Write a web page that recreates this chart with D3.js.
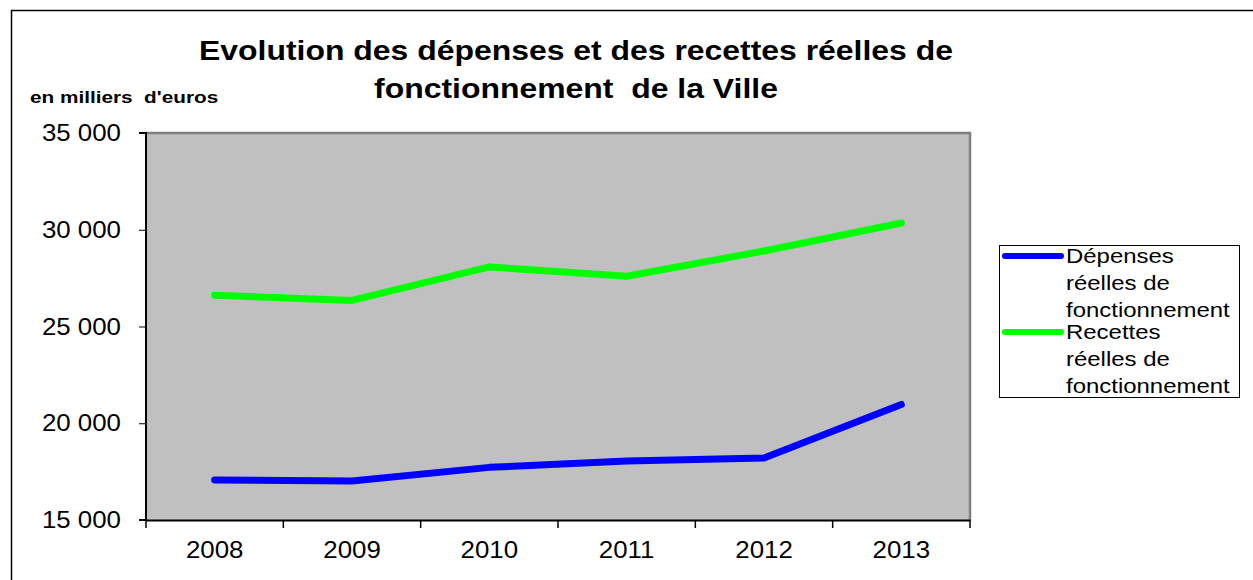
<!DOCTYPE html>
<html>
<head>
<meta charset="utf-8">
<script src="https://cdn.jsdelivr.net/npm/d3@7"></script>
<style>
  body { margin: 0; background: #fff; }
  svg { display: block; font-family: "Liberation Sans", Arial, sans-serif; }
</style>
</head>
<body>
<svg id="chart" width="1253" height="580"></svg>
<script>
const years = ["2008", "2009", "2010", "2011", "2012", "2013"];
const depenses = [17070, 17010, 17720, 18050, 18200, 20970];
const recettes = [26620, 26350, 28080, 27600, 28900, 30350];
const yTicks = [15000, 20000, 25000, 30000, 35000];
const seriesNames = ["Dépenses réelles de fonctionnement", "Recettes réelles de fonctionnement"];
const seriesColors = ["#0000ff", "#00ff00"];

const svg = d3.select("#chart");
const margins = { top: 133, right: 283, bottom: 60, left: 146 };
const width = 1253, height = 580;

// the original text is drawn a little wider than Arial
function stretch(sel, f) {
    sel.each(function() {
        const w = this.getComputedTextLength();
        d3.select(this).attr("textLength", w * f).attr("lengthAdjust", "spacingAndGlyphs");
    });
}

// outer frame (top and left only visible)
svg.append("path")
    .attr("d", `M11.5,${height} V10.5 H${width}`)
    .attr("fill", "none")
    .attr("stroke", "#000")
    .attr("stroke-width", 1.5);

const x = d3.scaleBand()
    .domain(years)
    .range([margins.left, width - margins.right]);

const y = d3.scaleLinear()
    .domain([15000, 35000])
    .range([height - margins.bottom, margins.top]);

// plot area
svg.append("rect")
    .attr("x", margins.left)
    .attr("y", margins.top)
    .attr("width", x.range()[1] - margins.left)
    .attr("height", y(15000) - margins.top)
    .attr("fill", "#c0c0c0");

svg.append("path")
    .attr("d", `M${margins.left},${margins.top} H${x.range()[1]} V${y(15000)}`)
    .attr("fill", "none")
    .attr("stroke", "#808080")
    .attr("stroke-width", 2.5);

const fmt = v => d3.format(",")(v).replace(",", " ");

const yAxis = svg.append("g")
    .attr("transform", `translate(${margins.left},0)`)
    .call(d3.axisLeft(y).tickValues(yTicks).tickSize(7).tickPadding(18).tickFormat(fmt));
yAxis.select(".domain").attr("stroke-width", 2).attr("d", `M-7,${y(35000)}H0V${y(15000)}H-7`);
yAxis.selectAll("text").attr("font-size", 23.5).attr("fill", "#000")
    .attr("font-family", "Liberation Sans, Arial, sans-serif");
stretch(yAxis.selectAll("text"), 1.1);

const xAxis = svg.append("g")
    .attr("transform", `translate(0,${y(15000)})`)
    .call(d3.axisBottom(x).tickSize(0).tickPadding(21));
xAxis.select(".domain").attr("stroke-width", 2);
xAxis.selectAll("text").attr("font-size", 23.5).attr("fill", "#000")
    .attr("font-family", "Liberation Sans, Arial, sans-serif");
stretch(xAxis.selectAll("text"), 1.1);
// tick marks on band boundaries
xAxis.selectAll("line.bound")
    .data(years.concat(["end"]))
    .join("line")
    .attr("class", "bound")
    .attr("x1", (d, i) => margins.left + i * x.bandwidth())
    .attr("x2", (d, i) => margins.left + i * x.bandwidth())
    .attr("y1", 0).attr("y2", 8)
    .attr("stroke", "#000").attr("stroke-width", 1.5);

const line = d3.line()
    .x((d, i) => x(years[i]) + x.bandwidth() / 2)
    .y(d => y(d));

[depenses, recettes].forEach((s, k) => {
    svg.append("path")
        .datum(s)
        .attr("d", line)
        .attr("fill", "none")
        .attr("stroke", seriesColors[k])
        .attr("stroke-width", 7)
        .attr("stroke-linecap", "round")
        .attr("stroke-linejoin", "round");
});

// title
const title = svg.append("g")
    .attr("font-size", 28)
    .attr("font-weight", "bold")
    .attr("text-anchor", "middle");
title.append("text").attr("x", 576).attr("y", 60).text("Evolution des dépenses et des recettes réelles de");
title.append("text").attr("x", 576).attr("y", 98).attr("xml:space", "preserve").text("fonctionnement  de la Ville");
stretch(title.selectAll("text"), 1.14);

const unit = svg.append("text")
    .attr("x", 30)
    .attr("y", 103)
    .attr("font-size", 17)
    .attr("font-weight", "bold")
    .attr("xml:space", "preserve")
    .text("en milliers  d'euros");
stretch(unit, 1.22);

// legend
const legend = svg.append("g");
legend.append("rect")
    .attr("x", 999.5).attr("y", 245.5)
    .attr("width", 240).attr("height", 152)
    .attr("fill", "#fff").attr("stroke", "#000").attr("stroke-width", 1);

seriesNames.forEach((name, k) => {
    const y0 = 256 + k * 76;
    legend.append("line")
        .attr("x1", 1005).attr("x2", 1061)
        .attr("y1", y0).attr("y2", y0)
        .attr("stroke", seriesColors[k])
        .attr("stroke-width", 6)
        .attr("stroke-linecap", "round");
    const words = name.split(" ");
    const lines = [words[0], words[1] + " " + words[2], words[3]];
    lines.forEach((t, j) => {
        legend.append("text")
            .attr("class", "leg")
            .attr("x", 1066)
            .attr("y", y0 + 7 + j * 27)
            .attr("font-size", 21)
            .text(t);
    });
});
stretch(legend.selectAll("text.leg"), 1.14);
</script>
</body>
</html>
